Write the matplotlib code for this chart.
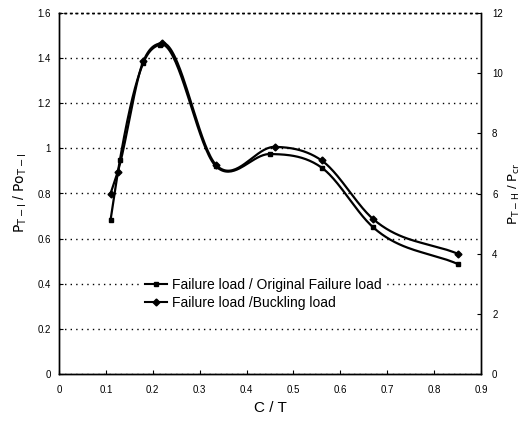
import numpy as np
import matplotlib
matplotlib.use("Agg")
import matplotlib.pyplot as plt
from matplotlib.lines import Line2D

plt.rcParams['font.family'] = ['Liberation Sans', 'DejaVu Sans']

# Series 1: Failure load / Original Failure load (left axis)
x1 = [0.11, 0.13, 0.18, 0.215, 0.335, 0.45, 0.56, 0.67, 0.85]
y1 = [0.683, 0.95, 1.38, 1.46, 0.92, 0.975, 0.915, 0.65, 0.488]

# Series 2: Failure load / Buckling load (right axis)
x2 = [0.11, 0.125, 0.18, 0.22, 0.335, 0.46, 0.56, 0.67, 0.85]
y2 = [6.0, 6.7, 10.4, 11.0, 6.95, 7.55, 7.1, 5.15, 4.0]

label1 = "Failure load / Original Failure load"
label2 = "Failure load /Buckling load"

xticks = [0, 0.1, 0.2, 0.3, 0.4, 0.5, 0.6, 0.7, 0.8, 0.9]
xticklabels = ["0", "0.1", "0.2", "0.3", "0.4", "0.5", "0.6", "0.7", "0.8", "0.9"]
yticks_left = [0, 0.2, 0.4, 0.6, 0.8, 1.0, 1.2, 1.4, 1.6]
yticklabels_left = ["0", "0.2", "0.4", "0.6", "0.8", "1", "1.2", "1.4", "1.6"]
yticks_right = [0, 2, 4, 6, 8, 10, 12]


def smooth(xs, ys, n=40):
    """Smoothed connecting line (cubic Hermite, 3-point tangents)."""
    x = np.asarray(xs, float)
    y = np.asarray(ys, float)
    h = np.diff(x)
    d = np.diff(y) / h
    m = np.empty_like(y)
    m[0], m[-1] = d[0], d[-1]
    m[1:-1] = (h[1:] * d[:-1] + h[:-1] * d[1:]) / (h[:-1] + h[1:])
    outx, outy = [], []
    t = np.linspace(0, 1, n)
    for i in range(len(x) - 1):
        h00 = 2 * t**3 - 3 * t**2 + 1
        h10 = t**3 - 2 * t**2 + t
        h01 = -2 * t**3 + 3 * t**2
        h11 = t**3 - t**2
        yy = h00 * y[i] + h10 * h[i] * m[i] + h01 * y[i + 1] + h11 * h[i] * m[i + 1]
        xx = x[i] + t * h[i]
        if i > 0:
            xx, yy = xx[1:], yy[1:]
        outx.append(xx)
        outy.append(yy)
    return np.concatenate(outx), np.concatenate(outy)


fig = plt.figure(figsize=(5.25, 4.23), dpi=100)
ax = fig.add_axes([59 / 525, 49 / 423, 422 / 525, 361 / 423])
ax2 = ax.twinx()

sx1, sy1 = smooth(x1, y1)
ax.plot(sx1, sy1, color='black', lw=1.6, zorder=3)
ax.plot(x1, y1, ls='none', marker='s', ms=3.5, color='black', zorder=4)

sx2, sy2 = smooth(x2, y2)
ax2.plot(sx2, sy2, color='black', lw=1.6, zorder=3)
ax2.plot(x2, y2, ls='none', marker='D', ms=3.5, color='black', zorder=4)

ax.set_xlim(0, 0.9)
ax.set_ylim(0, 1.6)
ax2.set_ylim(0, 12)

ax.set_xticks(xticks)
ax.set_xticklabels(xticklabels)
ax.set_yticks(yticks_left)
ax.set_yticklabels(yticklabels_left)
ax2.set_yticks(yticks_right)

for a in (ax, ax2):
    a.tick_params(direction='in', length=3, width=0.8, labelsize=7, colors='black')
ax.tick_params(axis='x', pad=8)
ax.tick_params(axis='y', pad=6)
ax2.tick_params(axis='y', pad=8)

ax.yaxis.grid(True, linestyle=(0, (1, 3)), color='black', lw=1.0)
ax.set_axisbelow(True)
for a in (ax, ax2):
    a.spines['top'].set_linestyle((0, (1, 3)))
    a.spines['top'].set_linewidth(1.0)
    for s in ('left', 'right', 'bottom'):
        a.spines[s].set_linewidth(1.0)

ax.set_xlabel("C / T", fontsize=11, labelpad=4)
ax.set_ylabel(r"$\mathrm{P}_{\mathrm{T-I}}$ / $\mathrm{Po}_{\mathrm{T-I}}$", fontsize=10, labelpad=6)
ax2.set_ylabel(r"$\mathrm{P}_{\mathrm{T-H}}$ / $\mathrm{P}_{\mathrm{cr}}$", fontsize=9.5, labelpad=3)

handles = [Line2D([], [], color='black', lw=1.5, marker='s', ms=3.5),
           Line2D([], [], color='black', lw=1.5, marker='D', ms=3.5)]
leg = ax2.legend(handles, [label1, label2], loc='upper left',
                 bbox_to_anchor=(134 / 525, 1 - 267 / 423), bbox_transform=fig.transFigure,
                 frameon=True, fontsize=10, handlelength=1.6, handletextpad=0.3,
                 labelspacing=0.25, borderpad=0.3, fancybox=False)
leg.get_frame().set_edgecolor('white')
leg.get_frame().set_facecolor('white')
leg.get_frame().set_alpha(1.0)

fig.savefig("out.png", dpi=100)
